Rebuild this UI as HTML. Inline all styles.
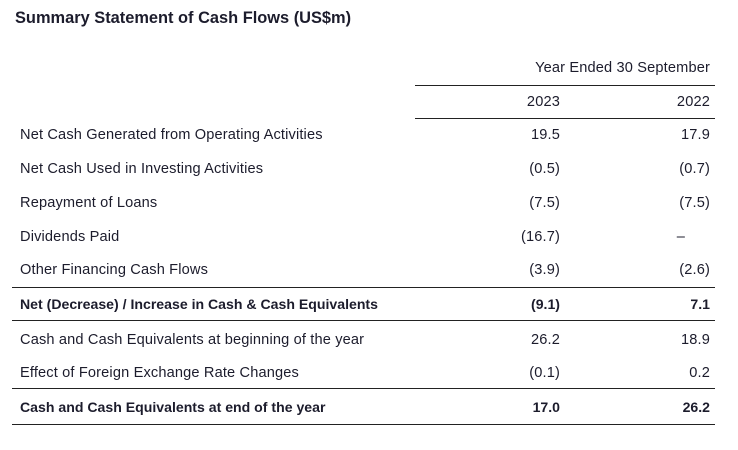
<!DOCTYPE html>
<html><head><style>
body{margin:0;width:738px;height:450px;background:#fff;position:relative;font-family:"Liberation Sans",sans-serif;color:#1c1c2c;overflow:hidden}
.t{position:absolute;font-size:14.6px;line-height:16px;white-space:nowrap;letter-spacing:0.15px}
.r{text-align:right}
.b{font-weight:bold;font-size:14.1px;letter-spacing:0}
.l{position:absolute;height:1px;background:#222}
</style></head><body>
<div class="t b" style="left:15px;top:9px;font-size:16.4px;line-height:18px">Summary Statement of Cash Flows (US$m)</div>
<div class="t r" style="right:28px;top:60px">Year Ended 30 September</div>
<div class="l" style="left:415px;width:300px;top:85px"></div>
<div class="t r" style="right:178px;top:94px">2023</div>
<div class="t r" style="right:28px;top:94px">2022</div>
<div class="l" style="left:415px;width:300px;top:118px"></div>

<div class="t" style="left:20px;top:127px">Net Cash Generated from Operating Activities</div>
<div class="t r" style="right:178px;top:127px">19.5</div><div class="t r" style="right:28px;top:127px">17.9</div>

<div class="t" style="left:20px;top:161px">Net Cash Used in Investing Activities</div>
<div class="t r" style="right:178px;top:161px">(0.5)</div><div class="t r" style="right:28px;top:161px">(0.7)</div>

<div class="t" style="left:20px;top:195px">Repayment of Loans</div>
<div class="t r" style="right:178px;top:195px">(7.5)</div><div class="t r" style="right:28px;top:195px">(7.5)</div>

<div class="t" style="left:20px;top:229px">Dividends Paid</div>
<div class="t r" style="right:178px;top:229px">(16.7)</div><div class="t r" style="right:53px;top:229px">–</div>

<div class="t" style="left:20px;top:262px">Other Financing Cash Flows</div>
<div class="t r" style="right:178px;top:262px">(3.9)</div><div class="t r" style="right:28px;top:262px">(2.6)</div>

<div class="l" style="left:12px;width:703px;top:287px"></div>
<div class="t b" style="left:20px;top:296px">Net (Decrease) / Increase in Cash &amp; Cash Equivalents</div>
<div class="t r b" style="right:178px;top:296px">(9.1)</div><div class="t r b" style="right:28px;top:296px">7.1</div>
<div class="l" style="left:12px;width:703px;top:320px"></div>

<div class="t" style="left:20px;top:332px">Cash and Cash Equivalents at beginning of the year</div>
<div class="t r" style="right:178px;top:332px">26.2</div><div class="t r" style="right:28px;top:332px">18.9</div>

<div class="t" style="left:20px;top:365px">Effect of Foreign Exchange Rate Changes</div>
<div class="t r" style="right:178px;top:365px">(0.1)</div><div class="t r" style="right:28px;top:365px">0.2</div>

<div class="l" style="left:12px;width:703px;top:388px"></div>
<div class="t b" style="left:20px;top:399px">Cash and Cash Equivalents at end of the year</div>
<div class="t r b" style="right:178px;top:399px">17.0</div><div class="t r b" style="right:28px;top:399px">26.2</div>
<div class="l" style="left:12px;width:703px;top:424px"></div>
</body></html>
